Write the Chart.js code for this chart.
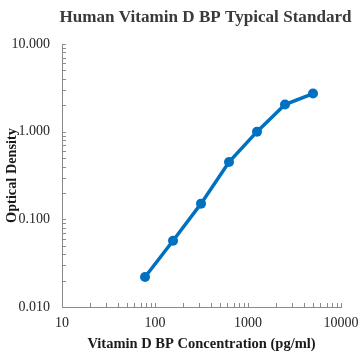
<!DOCTYPE html>
<html>
<head>
<meta charset="utf-8">
<script src="https://cdn.jsdelivr.net/npm/chart.js@4/dist/chart.umd.min.js"></script>
<style>
html,body{margin:0;padding:0;background:#fff;}
#wrap{width:358px;height:353px;position:relative;}
</style>
</head>
<body>
<div id="wrap"><canvas id="c" width="358" height="353"></canvas></div>
<script>
const chartTitle = 'Human Vitamin D BP Typical Standard';
const xAxisTitle = 'Vitamin D BP Concentration (pg/ml)';
const yAxisTitle = 'Optical Density';
const concentrations = [78.125, 156.25, 312.5, 625, 1250, 2500, 5000];
const opticalDensity = [0.022, 0.057, 0.151, 0.45, 1.0, 2.04, 2.72];
const xRange = [10, 10000];
const yRange = [0.01, 10];

const serif = '"Liberation Serif", "Times New Roman", serif';
const axisColor = '#8a8a8a';

function logTicks(min, max) {
  const out = [];
  for (let e = Math.round(Math.log10(min)); e <= Math.round(Math.log10(max)); e++) {
    for (let m = 1; m <= 9; m++) {
      const v = m * Math.pow(10, e);
      if (v >= min * 0.9999 && v <= max * 1.0001) out.push({value: v});
    }
  }
  return out;
}
function isPow10(v) {
  const l = Math.log10(v);
  return Math.abs(l - Math.round(l)) < 1e-9;
}

const innerTicks = {
  id: 'innerTicks',
  afterDraw(chart) {
    const ctx = chart.ctx;
    const xs = chart.scales.x, ys = chart.scales.y;
    const area = chart.chartArea;
    ctx.save();
    ctx.strokeStyle = axisColor;
    ctx.lineWidth = 1;
    ctx.beginPath();
    xs.ticks.forEach(t => {
      const px = Math.round(xs.getPixelForValue(t.value)) + 0.5;
      ctx.moveTo(px, area.bottom);
      ctx.lineTo(px, area.bottom - 4);
    });
    ys.ticks.forEach(t => {
      const py = Math.round(ys.getPixelForValue(t.value)) + 0.5;
      ctx.moveTo(area.left, py);
      ctx.lineTo(area.left + 4, py);
    });
    ctx.stroke();
    ctx.restore();
  }
};

const headTitle = {
  id: 'headTitle',
  afterDraw(chart) {
    const ctx = chart.ctx;
    const area = chart.chartArea;
    ctx.save();
    ctx.fillStyle = '#3a3a3a';
    ctx.font = 'bold 17.1px ' + serif;
    ctx.textAlign = 'center';
    ctx.textBaseline = 'middle';
    ctx.fillText(chartTitle, (area.left + area.right) / 2 + 4, 18);
    ctx.restore();
  }
};

new Chart(document.getElementById('c'), {
  type: 'line',
  data: {
    datasets: [{
      data: concentrations.map((x, i) => ({x: x, y: opticalDensity[i]})),
      borderColor: '#0070C0',
      backgroundColor: '#0070C0',
      borderWidth: 3.5,
      pointRadius: 5,
      pointHoverRadius: 5,
      pointBorderWidth: 0,
      tension: 0,
      fill: false
    }]
  },
  options: {
    responsive: false,
    animation: false,
    devicePixelRatio: 1,
    layout: {padding: {left: 0, right: 0, top: 44, bottom: 0}},
    plugins: {
      legend: {display: false},
      tooltip: {enabled: false},
      title: {display: false}
    },
    scales: {
      x: {
        type: 'logarithmic',
        min: xRange[0],
        max: xRange[1],
        afterBuildTicks: s => { s.ticks = logTicks(xRange[0], xRange[1]); },
        afterFit: s => { s.height = 46; s.paddingRight = 17; s.paddingLeft = 0; },
        grid: {display: true, drawOnChartArea: false, drawTicks: false},
        border: {display: true, color: axisColor, width: 1},
        ticks: {
          autoSkip: false,
          maxRotation: 0,
          padding: 8,
          color: '#262626',
          font: {family: serif, size: 14},
          callback: v => isPow10(v) ? String(Math.round(v)) : ''
        },
        title: {
          display: true,
          text: xAxisTitle,
          color: '#1a1a1a',
          font: {family: serif, size: 14.5, weight: 'bold'},
          padding: {top: 1, bottom: 0}
        }
      },
      y: {
        type: 'logarithmic',
        min: yRange[0],
        max: yRange[1],
        afterBuildTicks: s => { s.ticks = logTicks(yRange[0], yRange[1]); },
        afterFit: s => { s.width = 62; s.paddingTop = 0; },
        grid: {display: true, drawOnChartArea: false, drawTicks: false},
        border: {display: true, color: axisColor, width: 1},
        ticks: {
          autoSkip: false,
          padding: 12,
          color: '#262626',
          font: {family: serif, size: 14},
          callback: v => isPow10(v) ? Number(v).toFixed(3) : ''
        },
        title: {
          display: true,
          text: yAxisTitle,
          color: '#1a1a1a',
          font: {family: serif, size: 14.3, weight: 'bold'},
          padding: {top: 3.5, bottom: 0}
        }
      }
    }
  },
  plugins: [innerTicks, headTitle]
});
</script>
</body>
</html>
